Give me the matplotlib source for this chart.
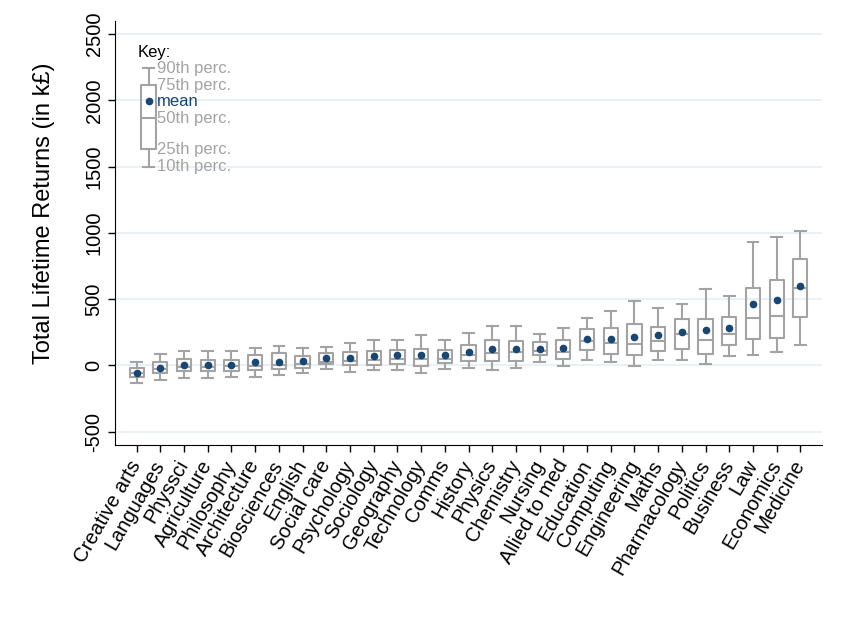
import matplotlib
matplotlib.use('Agg')
import matplotlib.pyplot as plt

subjects = ["Creative arts", "Languages", "Physsci", "Agriculture", "Philosophy",
            "Architecture", "Biosciences", "English", "Social care", "Psychology",
            "Sociology", "Geography", "Technology", "Comms", "History", "Physics",
            "Chemistry", "Nursing", "Allied to med", "Education", "Computing",
            "Engineering", "Maths", "Pharmacology", "Politics", "Business", "Law",
            "Economics", "Medicine"]

p10 = [-135, -112, -95, -92, -90, -88, -75, -58, -30, -50, -35, -35, -60, -25, -17,
       -35, -22, 28, -2, 40, 22, -8, 38, 38, 10, 70, 78, 98, 155]
p25 = [-88, -60, -45, -45, -43, -35, -30, -17, 8, 0, 5, 12, -5, 17, 30,
       35, 35, 80, 50, 115, 88, 75, 108, 125, 85, 152, 198, 210, 362]
p50 = [-60, -30, -15, -10, -8, -5, 5, 10, 28, 33, 40, 50, 50, 45, 80,
       95, 102, 112, 102, 185, 167, 158, 185, 235, 188, 240, 355, 370, 585]
p75 = [-22, 25, 45, 40, 40, 75, 95, 70, 90, 102, 112, 117, 125, 115, 155,
       192, 182, 177, 190, 275, 280, 310, 287, 348, 350, 365, 582, 645, 802]
p90 = [28, 88, 110, 105, 105, 130, 150, 132, 142, 170, 192, 192, 230, 190, 248,
       298, 296, 238, 285, 360, 410, 488, 432, 462, 578, 525, 930, 968, 1018]
means = [-55, -17, 2, 0, 0, 22, 28, 30, 52, 55, 70, 75, 75, 75, 102,
         120, 127, 127, 130, 198, 200, 215, 228, 252, 270, 282, 460, 490, 598]

# key box values
key_stats = {"whislo": 1500, "q1": 1630, "med": 1865, "q3": 2115, "whishi": 2245, "mean": 1995}
key_labels = [("90th perc.", "whishi"), ("75th perc.", "q3"), ("mean", "mean"),
              ("50th perc.", "med"), ("25th perc.", "q1"), ("10th perc.", "whislo")]

grey = "#a3a3a3"
blue = "#1a4674"

plt.rcParams['font.family'] = ['Liberation Sans', 'DejaVu Sans']

fig = plt.figure(figsize=(8.48, 6.17), dpi=100)
ax = fig.add_axes([0.136, 0.279, 0.833, 0.687])

stats = []
for i in range(len(subjects)):
    stats.append({"whislo": p10[i], "q1": p25[i], "med": p50[i], "q3": p75[i],
                  "whishi": p90[i], "mean": means[i], "fliers": []})

props = dict(color=grey, linewidth=1.5)
bp_kw = dict(widths=0.6, showmeans=True, showfliers=False, patch_artist=False,
             boxprops=props, whiskerprops=props, capprops=props, medianprops=props,
             meanprops=dict(marker="o", markerfacecolor=blue, markeredgecolor=blue,
                            markersize=4.5), capwidths=0.45, manage_ticks=False)
ax.bxp(stats, positions=range(len(subjects)), **bp_kw)

# key
key_x = 0.5
ks = dict(key_stats)
ks["fliers"] = []
ax.bxp([ks], positions=[key_x], **bp_kw)
ax.text(key_x - 0.48, 2365, "Key:", fontsize=12, va="center", ha="left", color="black")
for lab, k in key_labels:
    ax.text(key_x + 0.35, key_stats[k], lab, fontsize=12, va="center", ha="left",
            color=blue if k == "mean" else grey)

ax.set_xlim(-0.9, 28.9)
ax.set_ylim(-600, 2600)
ax.set_yticks(range(-500, 2501, 500))
ax.set_yticklabels([str(v) for v in range(-500, 2501, 500)], rotation=90, va="center",
                   fontsize=14.5)
ax.set_xticks(range(len(subjects)))
ax.set_xticklabels(subjects, rotation=60, ha="right", va="center", rotation_mode="anchor",
                   fontsize=14.5)

ax.set_ylabel("Total Lifetime Returns (in k£)", fontsize=17)
ax.yaxis.set_label_coords(-0.085, 0.547)

ax.grid(axis="y", color="#e6eff2", linewidth=1.2)
ax.set_axisbelow(True)
for s in ["top", "right"]:
    ax.spines[s].set_visible(False)
ax.tick_params(axis="both", length=5, width=1, color="black")
ax.tick_params(axis="x", pad=7)

fig.savefig("out.png", dpi=100)
